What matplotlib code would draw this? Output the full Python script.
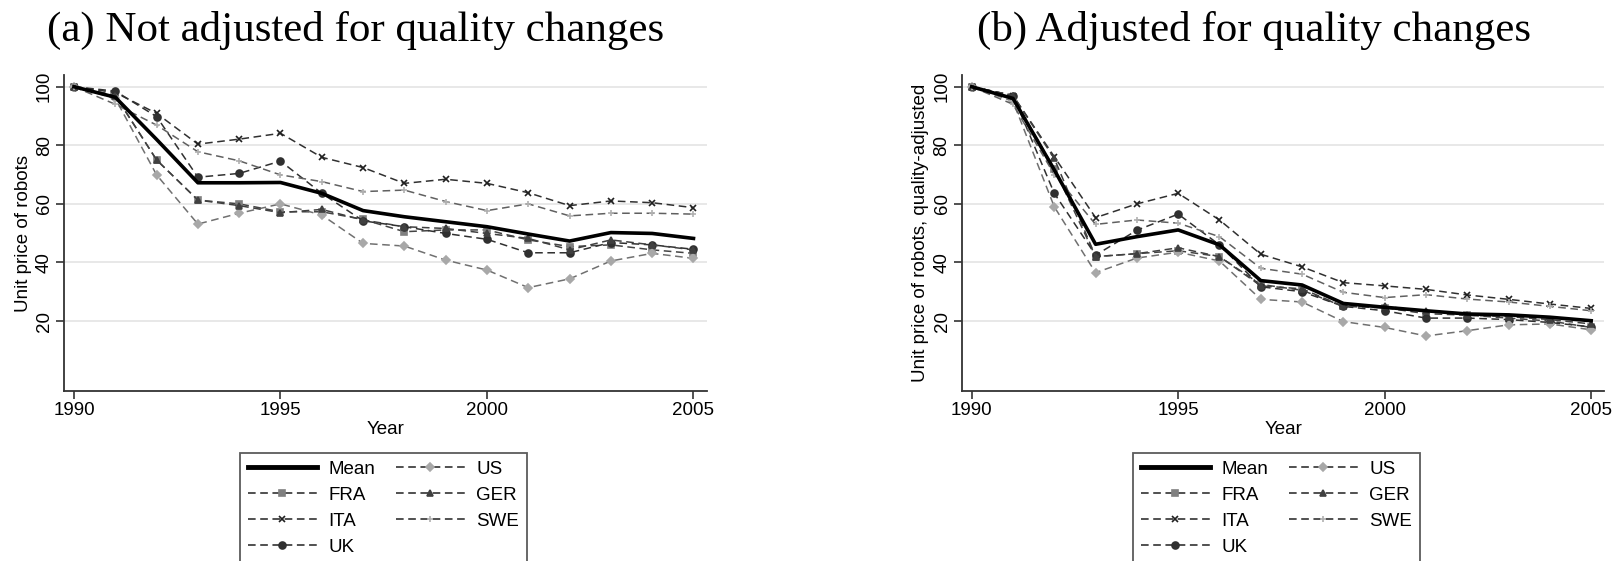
# Unit price of industrial robots, 1990 = 100, by country
# Panel (a): raw prices, panel (b): quality-adjusted prices

import matplotlib.pyplot as plt
from matplotlib.lines import Line2D

years = list(range(1990, 2006))

# Not adjusted for quality changes
raw_mean = [100, 96.4, 82.0, 67.2, 67.2, 67.3, 63.6, 57.7, 55.6, 53.9, 52.2, 49.7, 47.3, 50.2, 49.9, 48.2]
raw_fra = [100, 97.0, 75.0, 61.3, 60.0, 57.3, 57.3, 54.7, 50.5, 51.1, 51.1, 47.7, 45.4, 46.0, 44.3, 43.1]
raw_ger = [100, 97.0, 75.0, 61.3, 59.4, 57.0, 58.1, 54.5, 52.2, 51.6, 49.9, 48.2, 44.3, 47.7, 46.0, 44.3]
raw_ita = [100, 98.0, 90.9, 80.4, 82.1, 84.1, 75.9, 72.4, 67.0, 68.4, 67.0, 63.8, 59.4, 61.0, 60.4, 58.7]
raw_swe = [100, 94.0, 86.9, 77.8, 74.7, 69.9, 67.6, 64.2, 64.7, 60.8, 57.7, 60.0, 55.9, 56.8, 56.8, 56.5]
raw_uk = [100, 98.5, 89.8, 69.1, 70.4, 74.6, 63.6, 54.2, 52.2, 49.9, 47.9, 43.3, 43.3, 46.8, 46.0, 44.5]
raw_us = [100, 96.0, 69.9, 53.1, 56.8, 60.0, 56.2, 46.5, 45.6, 40.8, 37.4, 31.4, 34.4, 40.5, 43.1, 41.4]

# Adjusted for quality changes
adj_mean = [100, 96.0, 71.6, 46.2, 48.8, 51.1, 46.0, 33.8, 32.3, 26.0, 24.7, 23.5, 22.4, 22.1, 21.3, 20.1]
adj_fra = [100, 96.5, 72.0, 42.0, 43.0, 44.0, 42.0, 32.5, 30.5, 25.0, 24.5, 22.5, 22.0, 21.0, 20.0, 17.8]
adj_ger = [100, 97.0, 75.5, 42.0, 43.0, 45.0, 42.0, 32.0, 31.0, 25.0, 25.0, 23.5, 22.0, 21.5, 20.5, 19.0]
adj_ita = [100, 97.0, 76.1, 55.3, 60.0, 63.6, 54.5, 42.8, 38.5, 33.1, 32.0, 30.8, 28.9, 27.4, 25.8, 24.3]
adj_swe = [100, 94.0, 70.0, 53.0, 54.5, 53.4, 48.8, 38.0, 36.0, 29.8, 28.0, 29.0, 27.5, 26.5, 25.0, 23.5]
adj_uk = [100, 97.0, 63.6, 42.5, 51.0, 56.5, 46.0, 31.7, 30.0, 25.0, 23.5, 21.0, 21.0, 20.5, 19.5, 18.0]
adj_us = [100, 95.0, 59.0, 36.5, 41.5, 43.5, 40.5, 27.4, 26.5, 19.8, 17.8, 14.9, 16.7, 18.7, 19.0, 17.0]

# name, marker, marker colour, line colour
styles = [
    ('FRA', 's', '#808080', '#444444'),
    ('ITA', 'x', '#202020', '#303030'),
    ('UK', 'o', '#303030', '#303030'),
    ('US', 'D', '#a8a8a8', '#707070'),
    ('GER', '^', '#404040', '#404040'),
    ('SWE', '+', '#b0b0b0', '#606060'),
]

panels = [
    ('(a) Not adjusted for quality changes', 'Unit price of robots',
     raw_mean, {'FRA': raw_fra, 'GER': raw_ger, 'ITA': raw_ita, 'SWE': raw_swe, 'UK': raw_uk, 'US': raw_us},
     [64 / 1623, 0.3030, 0.3960, 0.5633], 240, 356),
    ('(b) Adjusted for quality changes', 'Unit price of robots, quality-adjusted',
     adj_mean, {'FRA': adj_fra, 'GER': adj_ger, 'ITA': adj_ita, 'SWE': adj_swe, 'UK': adj_uk, 'US': adj_us},
     [961.7 / 1623, 0.3030, 0.3960, 0.5633], 1133, 1254),
]

plt.rcParams['font.family'] = 'Liberation Sans'
fs = 13.5
fig = plt.figure(figsize=(16.23, 5.61), dpi=100)

dash = (5, 3)
for title, ylabel, mean, countries, rect, leg_x, title_x in panels:
    ax = fig.add_axes(rect)
    for name, mk, mcol, lcol in styles:
        ax.plot(years, countries[name], linestyle='--', dashes=dash, color=lcol, linewidth=1.1,
                marker=mk, markersize=5 if mk != 'D' else 4, markerfacecolor=mcol,
                markeredgecolor=mcol, markeredgewidth=1.2, zorder=3)
    ax.plot(years, mean, color='black', linewidth=2.6, zorder=4)

    ax.set_xlim(1989.758, 2005.32)
    ax.set_ylim(-3.9, 104)
    ax.set_xticks([1990, 1995, 2000, 2005])
    ax.set_yticks([20, 40, 60, 80, 100])
    ax.set_yticklabels(['20', '40', '60', '80', '100'], rotation=90, va='center')
    ax.tick_params(labelsize=fs, length=6, width=1.2, color='#333333', pad=2)
    ax.grid(axis='y', color='#e4e4e4', linewidth=1.2)
    ax.set_axisbelow(True)
    for side in ['top', 'right']:
        ax.spines[side].set_visible(False)
    for side in ['left', 'bottom']:
        ax.spines[side].set_color('#333333')
        ax.spines[side].set_linewidth(1.3)
    ax.set_xlabel('Year', fontsize=fs, labelpad=1)
    ax.set_ylabel(ylabel, fontsize=fs, labelpad=3)

    fig.text(title_x / 1623, 1 - 30 / 561, title, family='Liberation Serif', fontsize=31,
             ha='center', va='center')

    # legend handles with a single marker in the middle
    handles = [Line2D([], [], color='black', linewidth=3.5)]
    labels = ['Mean']
    order = ['FRA', 'ITA', 'UK', 'US', 'GER', 'SWE']
    lookup = {s[0]: s for s in styles}
    for name in order:
        _, mk, mcol, lcol = lookup[name]
        handles.append(Line2D([], [], linestyle='--', dashes=dash, color='#202020', linewidth=1.1,
                              marker=mk, markersize=5 if mk != 'D' else 4, markerfacecolor=mcol,
                              markeredgecolor=mcol, markeredgewidth=1.2))
        labels.append(name)
    leg = fig.legend(handles, labels, ncol=2, loc='upper left',
                     bbox_to_anchor=(leg_x / 1623, 1 - 453 / 561), fontsize=fs,
                     handlelength=3.7, handletextpad=0.6, columnspacing=1.1,
                     labelspacing=0.48, borderpad=0.4, borderaxespad=0, numpoints=1,
                     fancybox=False)
    leg.get_frame().set_edgecolor('#333333')
    leg.get_frame().set_linewidth(1.3)

fig.savefig('out.png', dpi=100)
